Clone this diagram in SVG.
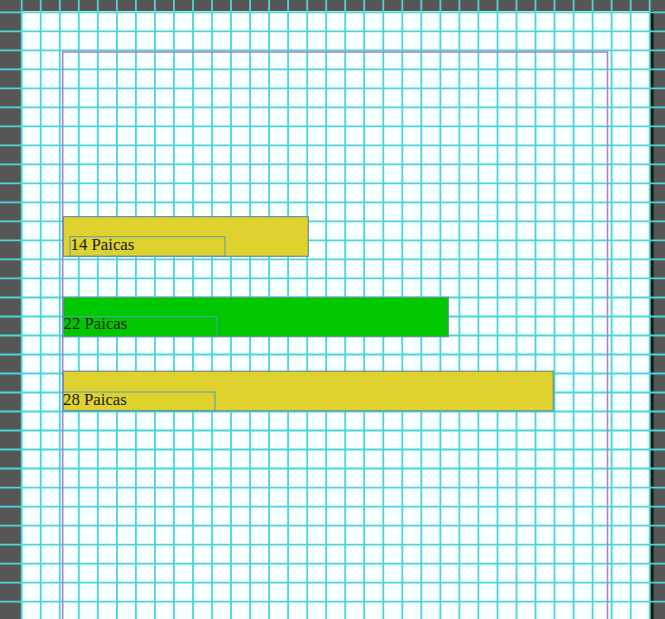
<svg xmlns="http://www.w3.org/2000/svg" width="665" height="619" viewBox="0 0 665 619">
  <style>
    .grid { stroke: #4CD5D9; stroke-width: 1.8; fill: none; }
    .chrome { fill: #565656; }
    .margin { fill: none; stroke: #B07CC6; stroke-width: 1.5; }
    .bar { stroke: #6A8E98; stroke-width: 1.2; }
    .yellow { fill: #DFD12E; }
    .green { fill: #00C800; }
    .frame { fill: none; stroke: #5A9CB0; stroke-width: 1; }
    .label { font-family: "Liberation Serif", "Times New Roman", serif; font-size: 16.8px; fill: #1A1A1A; }
  </style>
  <rect x="0" y="0" width="665" height="619" fill="#F8FFFF"/>
  <g id="pasteboard">
    <rect class="chrome" x="0" y="0" width="665" height="11"/>
    <rect class="chrome" x="0" y="0" width="21.5" height="619"/>
    <rect class="chrome" x="650" y="0" width="15" height="619"/>
    <rect x="650.5" y="11" width="3" height="608" fill="#111111"/>
  </g>
  <g id="grid">
    <path class="grid" d="M21.7 0V619M40.7 0V619M59.8 0V619M78.8 0V619M97.8 0V619M116.9 0V619M135.9 0V619M154.9 0V619M173.9 0V619M193 0V619M212 0V619M231 0V619M250.1 0V619M269.1 0V619M288.1 0V619M307.2 0V619M326.2 0V619M345.2 0V619M364.2 0V619M383.3 0V619M402.3 0V619M421.3 0V619M440.4 0V619M459.4 0V619M478.4 0V619M497.5 0V619M516.5 0V619M535.5 0V619M554.5 0V619M573.6 0V619M592.6 0V619M611.6 0V619M630.7 0V619M649.7 0V619"/>
    <path class="grid" d="M0 12.3H665M0 31.3H665M0 50.3H665M0 69.3H665M0 88.3H665M0 107.4H665M0 126.4H665M0 145.4H665M0 164.4H665M0 183.4H665M0 202.4H665M0 221.4H665M0 240.4H665M0 259.4H665M0 278.4H665M0 297.5H665M0 316.5H665M0 335.5H665M0 354.5H665M0 373.5H665M0 392.5H665M0 411.5H665M0 430.5H665M0 449.5H665M0 468.5H665M0 487.6H665M0 506.6H665M0 525.6H665M0 544.6H665M0 563.6H665M0 582.6H665M0 601.6H665"/>
  </g>
  <rect id="margins" class="margin" x="62.7" y="52" width="544.8" height="580"/>
  <g id="bar-14">
    <rect class="bar yellow" x="63.3" y="216.7" width="245" height="39.6"/>
    <rect class="frame" x="70" y="236.7" width="155" height="19.6"/>
    <text class="label" x="70.5" y="250">14 Paicas</text>
  </g>
  <g id="bar-22">
    <rect class="bar green" x="63.3" y="297.3" width="385" height="39.4"/>
    <rect class="frame" x="63.3" y="316.7" width="153.4" height="20"/>
    <text class="label" x="63.5" y="329">22 Paicas</text>
  </g>
  <g id="bar-28">
    <rect class="bar yellow" x="63.3" y="371.2" width="490" height="39.6"/>
    <rect class="frame" x="63.3" y="392" width="151.7" height="18.8"/>
    <text class="label" x="63" y="404.5">28 Paicas</text>
  </g>
</svg>
